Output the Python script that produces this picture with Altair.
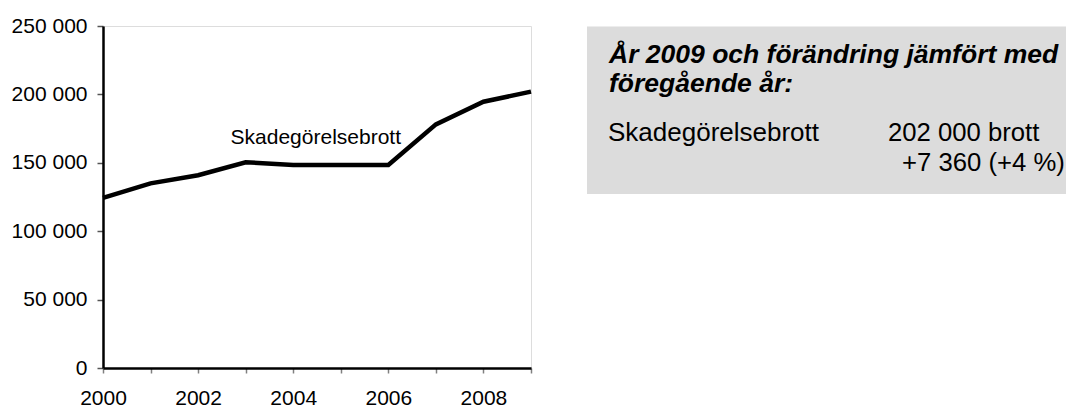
import altair as alt
import pandas as pd

# ---- data ----
years = [2000, 2001, 2002, 2003, 2004, 2005, 2006, 2007, 2008, 2009]
values = [124300, 135000, 140900, 150400, 148400, 148400, 148400, 178100, 194640, 202000]
series_name = "Skadegörelsebrott"
label_year = 2005

y_ticks = [0, 50000, 100000, 150000, 200000, 250000]

box_title = ["År 2009 och förändring jämfört med", "föregående år:"]
box_row_label = "Skadegörelsebrott"
box_row_value = ["202 000 brott", "+7 360 (+4 %)"]

FONT = "Arial, Liberation Sans, sans-serif"

df = pd.DataFrame({"year": years, "value": values})
lab = df[df["year"] == label_year].assign(name=series_name)
one = pd.DataFrame({"a": [0]})

x_enc = alt.X(
    "year:Q",
    scale=alt.Scale(domain=[2000, 2009], nice=False, zero=False),
    axis=alt.Axis(
        values=years,
        labelExpr="datum.value % 2 === 0 ? toString(datum.value) : ''",
        title=None,
        grid=False,
        labelFlush=False,
        labelOverlap=False,
        tickSize=5,
        tickColor="#808080",
        tickWidth=1.5,
        labelPadding=14,
        domainColor="black",
        domainWidth=2.5,
        labelFont=FONT,
        labelFontSize=21,
        labelColor="black",
    ),
)
y_enc = alt.Y(
    "value:Q",
    scale=alt.Scale(domain=[0, 250000], nice=False),
    axis=alt.Axis(
        values=y_ticks,
        labelExpr="replace(format(datum.value, ','), ',', ' ')",
        title=None,
        grid=False,
        tickSize=6,
        tickColor="#555555",
        tickWidth=1.5,
        labelPadding=10,
        domainColor="black",
        domainWidth=2.5,
        labelFont=FONT,
        labelFontSize=21,
        labelColor="black",
    ),
)

line = alt.Chart(df).mark_line(color="black", strokeWidth=4.5).encode(x=x_enc, y=y_enc)

line_label = alt.Chart(lab).mark_text(
    font=FONT, fontSize=21, color="black", align="center", baseline="alphabetic",
    dx=-25, dy=-21,
).encode(x="year:Q", y="value:Q", text="name:N")

box = alt.Chart(one).mark_rect(color="#dcdcdc").encode(
    x=alt.value(484), x2=alt.value(963), y=alt.value(0.5), y2=alt.value(168)
)

t1 = alt.Chart(one).mark_text(
    font=FONT, fontSize=26.5, fontWeight="bold", fontStyle="italic", color="black",
    align="left", baseline="alphabetic", text=box_title[0],
).encode(x=alt.value(506), y=alt.value(37))
t2 = alt.Chart(one).mark_text(
    font=FONT, fontSize=26.5, fontWeight="bold", fontStyle="italic", color="black",
    align="left", baseline="alphabetic", text=box_title[1],
).encode(x=alt.value(506), y=alt.value(66))
t3 = alt.Chart(one).mark_text(
    font=FONT, fontSize=26, color="black", align="left", baseline="alphabetic",
    text=box_row_label,
).encode(x=alt.value(505), y=alt.value(115))
t4 = alt.Chart(one).mark_text(
    font=FONT, fontSize=25.7, color="black", align="left", baseline="alphabetic",
    text=box_row_value[0],
).encode(x=alt.value(785), y=alt.value(115))
t5 = alt.Chart(one).mark_text(
    font=FONT, fontSize=25.7, color="black", align="left", baseline="alphabetic",
    text=box_row_value[1],
).encode(x=alt.value(799), y=alt.value(145))

chart = (
    alt.layer(box, t1, t2, t3, t4, t5, line, line_label)
    .properties(
        width=428,
        height=342,
        autosize=alt.AutoSizeParams(type="none"),
        padding={"left": 95, "top": 18, "right": 535, "bottom": 39},
    )
    .configure_view(stroke="black", strokeWidth=2)
    .configure(background="white")
)

chart.save("out.html", embed_options={"renderer": "svg", "actions": False})
